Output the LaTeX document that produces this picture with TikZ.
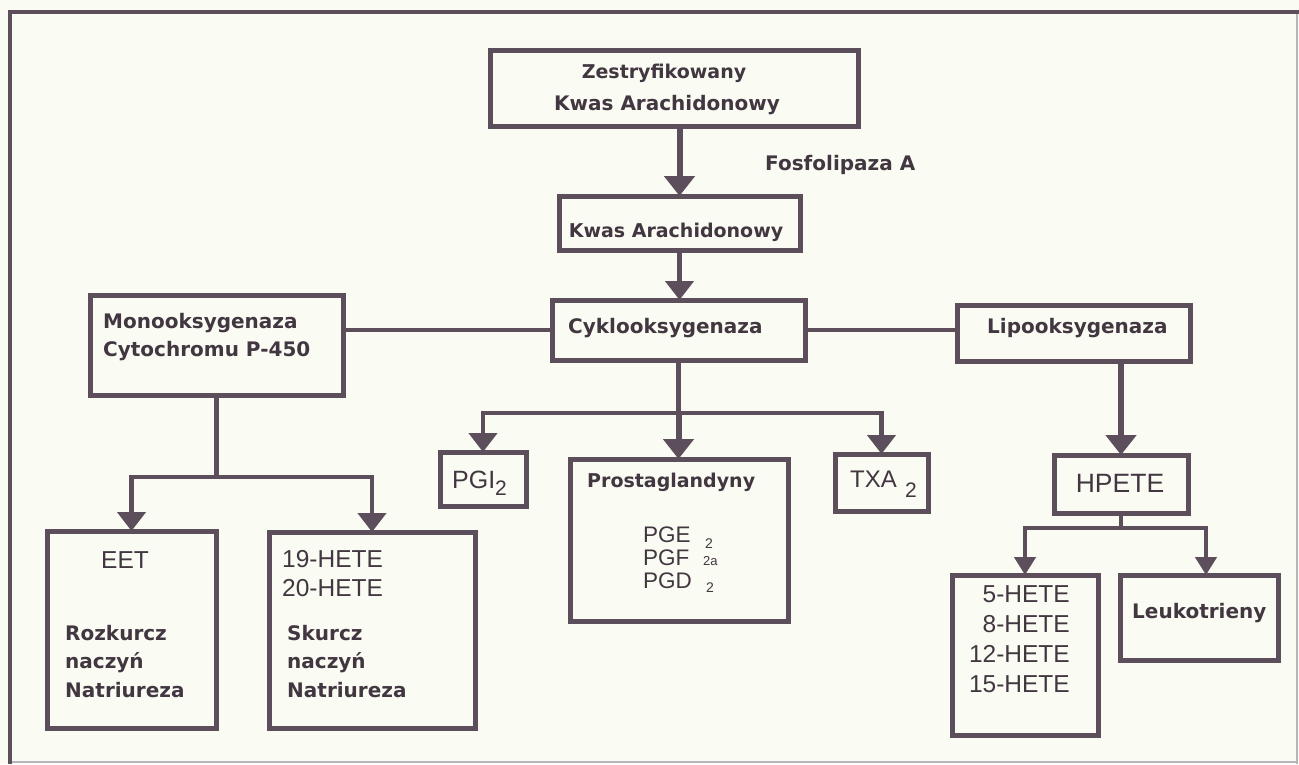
\documentclass[tikz,border=0pt]{standalone}
\usepackage{fontspec}
\setmainfont{Liberation Sans}
\newfontfamily\dvfam{DejaVu Sans}
\usetikzlibrary{arrows.meta}
\definecolor{lc}{RGB}{92,78,90}
\definecolor{tc}{RGB}{66,54,64}
\definecolor{bg}{RGB}{250,251,243}
\definecolor{fr}{RGB}{185,180,185}
\begin{document}
\begin{tikzpicture}[x=1pt,y=-1pt,
  box/.style={draw=lc, line width=5pt, inner sep=0pt, outer sep=0pt, anchor=north west},
  line/.style={draw=lc, line width=4.5pt},
  lineB/.style={draw=lc, line width=6pt},
  arrA/.style={line, -{Triangle[width=28pt,length=19pt]}},
  arrB/.style={lineB, -{Triangle[width=30pt,length=20pt]}},
  arrC/.style={line, -{Triangle[width=21pt,length=18pt]}},
  bt/.style={font=\dvfam\bfseries\fontsize{20pt}{23pt}\selectfont, text=tc, inner sep=0pt},
  bts/.style={font=\dvfam\bfseries\fontsize{19pt}{23pt}\selectfont, text=tc, inner sep=0pt},
  rt/.style={font=\fontsize{24.5pt}{28pt}\selectfont, text=tc, inner sep=0pt},
  st/.style={font=\fontsize{21pt}{24pt}\selectfont, text=tc, inner sep=0pt},
  pt/.style={font=\fontsize{22.5pt}{24pt}\selectfont, text=tc, inner sep=0pt},
  sst/.style={font=\fontsize{14pt}{16pt}\selectfont, text=tc, inner sep=0pt}]
\useasboundingbox (0,0) rectangle (1299,764);
\fill[bg] (0,0) rectangle (1299,764);
% outer frame
\draw[fr, line width=1.5pt] (1297,12) -- (1297,764);
\draw[fr, line width=1.5pt] (10,762) -- (1297,762);
\draw[lc, line width=4pt] (8,12) -- (1299,12);
\draw[lc, line width=4pt] (10,12) -- (10,764);

% boxes
\node[box, minimum width=368pt, minimum height=76pt] (b1) at (490,50) {};
\node[box, minimum width=241pt, minimum height=54pt] (b2) at (559,196) {};
\node[box, minimum width=253pt, minimum height=60pt] (cyk) at (552,300) {};
\node[box, minimum width=253pt, minimum height=100pt] (mono) at (90,295) {};
\node[box, minimum width=233pt, minimum height=56pt] (lipo) at (957,305) {};
\node[box, minimum width=134pt, minimum height=58pt] (hpete) at (1054,455) {};
\node[box, minimum width=146pt, minimum height=160pt] (hete5) at (952,575) {};
\node[box, minimum width=158pt, minimum height=85pt] (leuk) at (1120,575) {};
\node[box, minimum width=169pt, minimum height=197pt] (eet) at (47,531) {};
\node[box, minimum width=206pt, minimum height=196pt] (hete19) at (269,532) {};
\node[box, minimum width=86pt, minimum height=54pt] (pgi) at (440,452) {};
\node[box, minimum width=218pt, minimum height=162pt] (prost) at (570,459) {};
\node[box, minimum width=93pt, minimum height=57pt] (txa) at (835,454) {};

% connectors
\draw[arrB] (b2.north |- b1.south) -- (b2.north);
\draw[arrA] (b2.south) -- (b2.south |- cyk.north);
\draw[line] (cyk.west) -- (cyk.west -| mono.east);
\draw[line] (cyk.east) -- (cyk.east -| lipo.west);

\coordinate (cj) at (678.5,413);
\draw[line] (cyk.south) -- (cj);
\draw[arrA] (cj) -| (pgi.north);
\draw[arrA] (cj) -| (txa.north);
\draw[arrB] (cj) -- (cj |- prost.north);

\coordinate (mj) at (216.5,477);
\draw[line] (mono.south) -- (mj);
\draw[arrA] (mj) -| (eet.north);
\draw[arrA] (mj) -| (hete19.north);

\draw[arrB] (hpete.north |- lipo.south) -- (hpete.north);

\coordinate (hj) at (1121,528);
\draw[line] (hpete.south) -- (hj);
\draw[arrC] (hj) -| (hete5.north);
\draw[arrC] (hj) -| ([xshift=7pt]leuk.north);

% texts
\node[bts, anchor=base] (t1a) at (664,78) {Zestryfikowany};
\node[bt, anchor=base] (t1b) at (667,110) {Kwas Arachidonowy};
\node[bts, anchor=base] (t2) at (676,237) {Kwas Arachidonowy};
\node[bt, anchor=base west] (tfos) at (765,170) {Fosfolipaza A};
\node[bt, anchor=base west] (tcyk) at (568,333) {Cyklooksygenaza};
\node[bt, anchor=base west] (tmono1) at (103,328) {Monooksygenaza};
\node[bt, anchor=base west] (tmono2) at (103,356) {Cytochromu P-450};
\node[bt, anchor=base west] (tlipo) at (987,333) {Lipooksygenaza};
\node[bt, anchor=base west] (tleuk) at (1132,618) {Leukotrieny};
\node[bts, anchor=base west] (tprost) at (587,487) {Prostaglandyny};

\node[rt, anchor=base] (teet) at (125,568) {EET};
\node[bt, anchor=base west] (tr1) at (65,640) {Rozkurcz};
\node[bt, anchor=base west] (tr2) at (65,668) {naczyń};
\node[bt, anchor=base west] (tr3) at (65,697) {Natriureza};

\node[rt, anchor=base west] (th19) at (282,567) {19-HETE};
\node[rt, anchor=base west] (th20) at (282,596) {20-HETE};
\node[bt, anchor=base west] (ts1) at (287,640) {Skurcz};
\node[bt, anchor=base west] (ts2) at (287,668) {naczyń};
\node[bt, anchor=base west] (ts3) at (287,697) {Natriureza};

\node[rt, anchor=base west, font=\fontsize{25pt}{28pt}\selectfont] (tpgi) at (452,488) {PGI};
\node[st, anchor=base west] (tpgi2) at (495,495) {2};
\node[rt, anchor=base west, font=\fontsize{24pt}{28pt}\selectfont] (ttxa) at (850,487) {TXA};
\node[st, anchor=base west] (ttxa2) at (905,497) {2};

\node[rt, anchor=base, font=\fontsize{26.5pt}{30pt}\selectfont] (thpete) at (1120,492) {HPETE};
\node[rt, anchor=base east] (th5) at (1070,602) {5-HETE};
\node[rt, anchor=base east] (th8) at (1070,632) {8-HETE};
\node[rt, anchor=base east] (th12) at (1070,662) {12-HETE};
\node[rt, anchor=base east] (th15) at (1070,692) {15-HETE};

\node[pt, anchor=base west] (tpge) at (643,542) {PGE};
\node[sst, anchor=base west] (tpge2) at (705,548) {2};
\node[pt, anchor=base west] (tpgf) at (643,565) {PGF};
\node[sst, anchor=base west, font=\fontsize{13pt}{15pt}\selectfont] (tpgf2) at (703,565) {2a};
\node[pt, anchor=base west] (tpgd) at (643,588) {PGD};
\node[sst, anchor=base west] (tpgd2) at (706,592) {2};
\end{tikzpicture}
\end{document}
